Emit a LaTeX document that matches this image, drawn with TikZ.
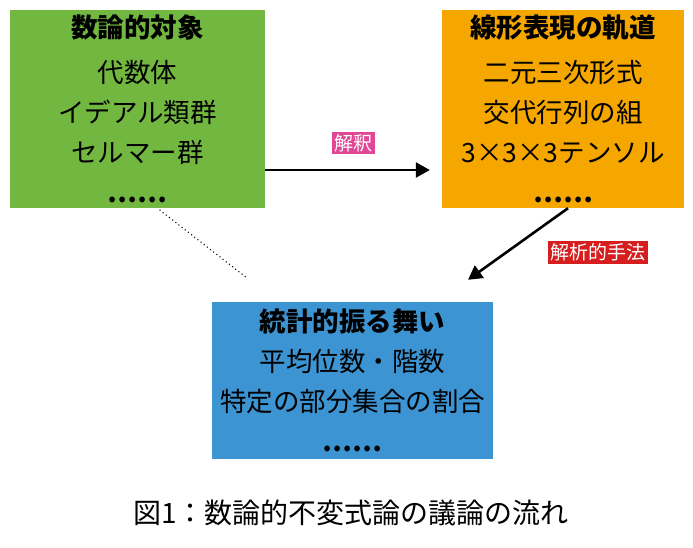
\documentclass[tikz,border=0pt]{standalone}
\usepackage{fontspec}
\setmainfont{Noto Sans CJK JP}
\usetikzlibrary{arrows.meta}
\definecolor{boxgreen}{RGB}{114, 184, 64}
\definecolor{boxorange}{RGB}{245, 167, 0}
\definecolor{boxblue}{RGB}{60, 148, 210}
\definecolor{tagpink}{RGB}{224, 72, 150}
\definecolor{tagred}{RGB}{214, 30, 30}
\tikzset{%
    topic/.style={%
        rectangle, inner sep=0pt, align=center,
        font=\fontsize{26.5}{40}\selectfont
    },
    tag/.style={inner sep=2.5pt, text=white, font=\fontsize{19}{21}\selectfont},
    flow/.style={line width=2.6pt, -{Triangle[length=14pt, width=15pt]}}
}
\newcommand{\moredots}{{\bfseries ……}}

\begin{document}
\begin{tikzpicture}[x=1pt, y=-1pt]

    \useasboundingbox (0, 0) rectangle (693, 547);

    \node[topic, fill=boxgreen, minimum width=255pt, minimum height=198pt]
        (objects) at (137.5, 109) {%
            {\bfseries 数論的対象}\\[5pt]
            代数体\\
            イデアル類群\\
            セルマー群\\
            \moredots
        };

    \node[topic, fill=boxorange, minimum width=242pt, minimum height=198pt]
        (orbits) at (563, 109) {%
            {\bfseries 線形表現の軌道}\\[5pt]
            二元三次形式\\
            交代行列の組\\
            3×3×3テンソル\\
            \moredots
        };

    \node[topic, fill=boxblue, minimum width=281pt, minimum height=157pt]
        (stats) at (352.5, 380.5) {%
            {\bfseries 統計的振る舞い}\\
            平均位数・階数\\
            特定の部分集合の割合\\
            \moredots
        };

    \draw[flow, shorten >=12pt] ([yshift=-61pt] objects.east) --
        ([yshift=-61pt] orbits.west);
    \node[tag, fill=tagpink] (interp) at (353, 143) {解釈};

    \coordinate (tip) at ([xshift=115.5pt, yshift=22pt] stats.north);
    \draw[flow] ([xshift=5pt] orbits.south) -- (tip);
    \node[tag, fill=tagred] (analytic) at (597.5, 252.5) {解析的手法};

    \coordinate (dotend) at ([xshift=-104.5pt, yshift=23pt] stats.north);
    \draw[line width=1.5pt, line cap=round, dash pattern=on 0pt off 4pt]
        ([xshift=22.5pt, yshift=-2pt] objects.south) -- (dotend);

    \node[font=\fontsize{28}{30}\selectfont] (caption) at (351, 513)
        {図1：数論的不変式論の議論の流れ};

\end{tikzpicture}
\end{document}
